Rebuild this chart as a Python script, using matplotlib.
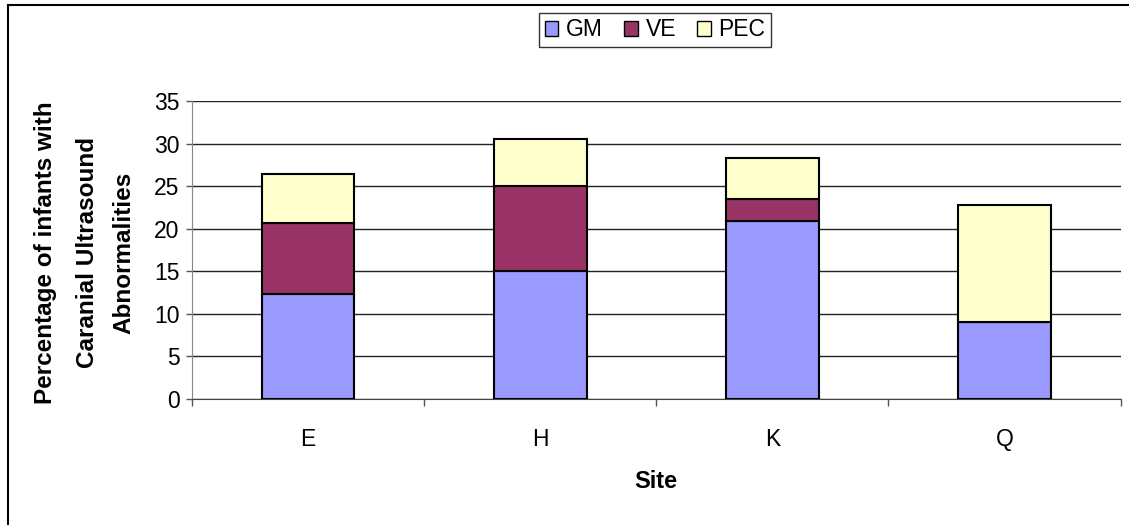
import numpy as np
import matplotlib
matplotlib.use("Agg")
import matplotlib.pyplot as plt
from matplotlib.lines import Line2D
from matplotlib.patches import Patch

plt.rcParams['font.family'] = ['Liberation Sans', 'DejaVu Sans']

sites = ["E", "H", "K", "Q"]
gm = [12.4, 15.1, 20.9, 9.0]
ve = [8.3, 9.9, 2.6, 0.0]
pec = [5.8, 5.6, 4.8, 13.8]
series_names = ["GM", "VE", "PEC"]
colors = ["#9999FF", "#993366", "#FFFFCC"]

W, H = 1129, 525
fig = plt.figure(figsize=(W / 100, H / 100), dpi=100)
ax = fig.add_axes([192 / W, 1 - 399 / H, (1120.5 - 192) / W, (399 - 101.3) / H])

x = np.arange(len(sites))
bottom = np.zeros(len(sites))
for vals, name, col in zip([gm, ve, pec], series_names, colors):
    vals = np.array(vals)
    ax.bar(x, vals, width=0.4, bottom=bottom, color=col, edgecolor="black",
           linewidth=1.5, label=name, zorder=3)
    bottom += vals

ax.set_xlim(-0.5, len(sites) - 0.5)
ax.set_ylim(0, 35)
ax.set_yticks(range(0, 36, 5))
ax.yaxis.grid(True, color="#222222", linewidth=1.0, zorder=0)

ax.set_xticks(x)
ax.set_xticklabels(sites)
ax.set_xticks(np.arange(-0.5, len(sites)), minor=True)
ax.tick_params(axis="x", which="major", length=0, pad=21, labelsize=16.5)
ax.tick_params(axis="x", which="minor", length=5, width=1, color="#555555", direction="out")
ax.tick_params(axis="y", length=4, width=1, color="#555555", pad=5, labelsize=16.5)

for s in ["top", "right"]:
    ax.spines[s].set_visible(False)
ax.spines["left"].set_color("#888888")
ax.spines["bottom"].set_color("#444444")

fig.text(656 / W, 1 - 482 / H, "Site", ha="center", va="center",
         fontsize=17, fontweight="bold")
ylines = ["Percentage of infants with", "Caranial Ultrasound", "Abnormalities"]
for xpos, line in zip([46, 87, 124], ylines):
    fig.text(xpos / W, 1 - 253 / H, line, rotation=90, ha="center", va="center",
             fontsize=17.5, fontweight="bold")

handles = [Patch(facecolor=c, edgecolor="black", linewidth=1) for c in colors]
leg = fig.legend(handles, series_names, loc="center", bbox_to_anchor=(655 / W, 1 - 30 / H),
                 ncol=3, frameon=True, fancybox=False, edgecolor="black", fontsize=16.5,
                 handlelength=0.6, handleheight=0.6, handletextpad=0.35, columnspacing=0.9,
                 borderpad=0.25, borderaxespad=0)
leg.get_frame().set_linewidth(1)

# outer chart border (cropped: only top and left visible)
fig.add_artist(Line2D([7.5 / W, 7.5 / W], [0, 1 - 5 / H], transform=fig.transFigure,
                      color="black", linewidth=1.5))
fig.add_artist(Line2D([7.5 / W, 1], [1 - 5 / H, 1 - 5 / H], transform=fig.transFigure,
                      color="black", linewidth=1.5))

fig.savefig("out.png", dpi=100)
